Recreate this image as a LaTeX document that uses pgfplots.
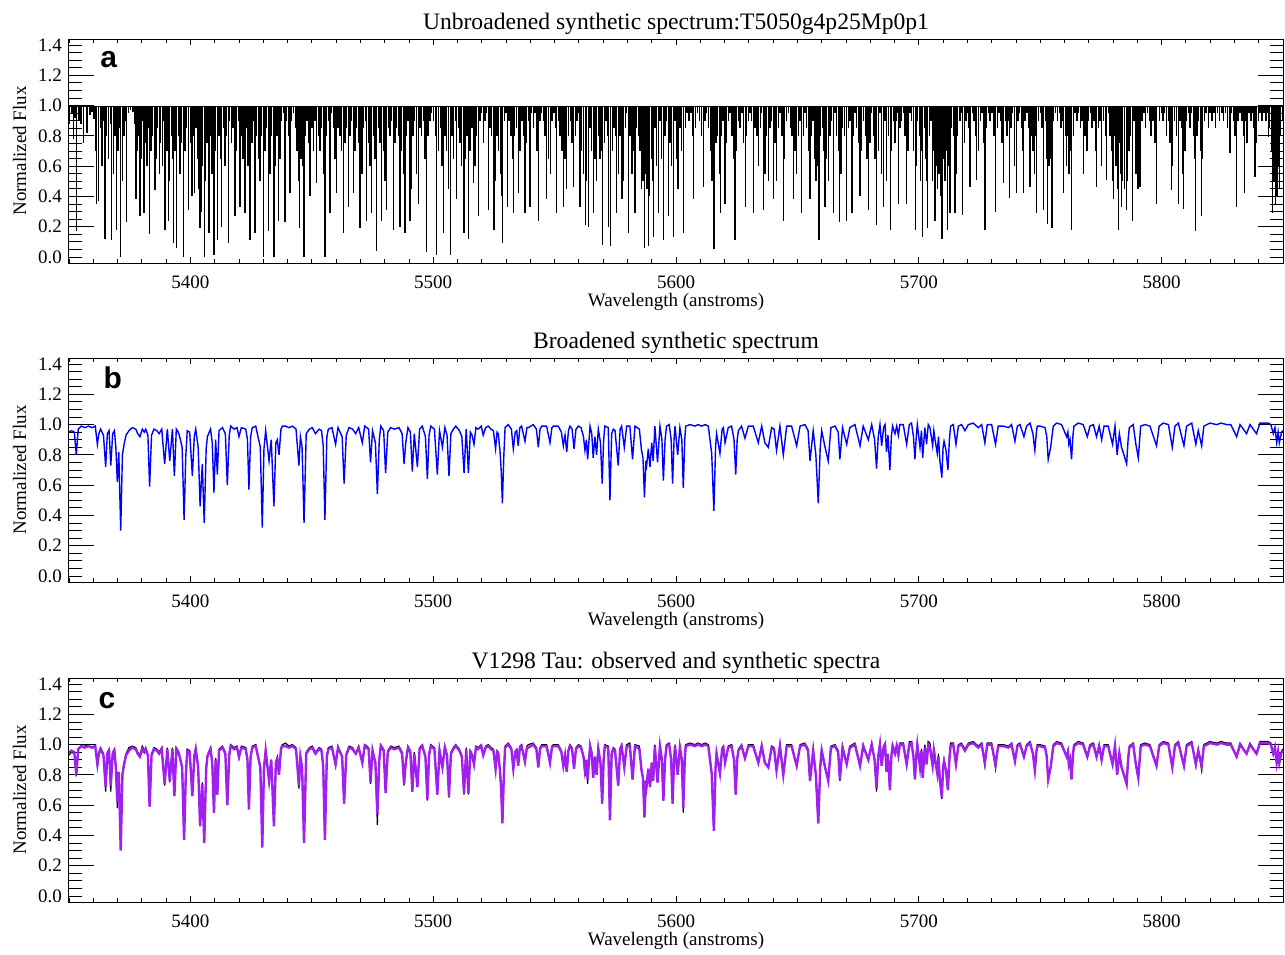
\documentclass[border=0pt]{standalone}
\usepackage{fontspec}
\setmainfont{Liberation Serif}
\newfontfamily\panelfont{Liberation Sans}
\usepackage{pgfplots}
\pgfplotsset{compat=1.18}
\usepackage{pgfplotstable}
\definecolor{specblue}{RGB}{0,0,255}
\definecolor{specpurple}{RGB}{160,32,240}

% broadened synthetic (syn) and observed V1298 Tau (obs) spectra
\pgfplotstableread{
wl syn obs
5350.0 0.95 0.93
5351.0 0.96 0.95
5352.2 0.95 0.94
5353.0 0.80 0.79
5353.8 0.97 0.97
5355.0 0.99 0.99
5356.5 0.98 0.99
5358.0 0.99 1.00
5359.5 0.98 1.00
5360.8 0.99 1.00
5361.7 0.87 0.85
5362.3 0.94 0.95
5363.0 0.97 0.98
5364.2 0.93 0.94
5365.1 0.72 0.69
5365.8 0.94 0.95
5366.5 0.96 0.97
5367.2 0.73 0.69
5368.0 0.94 0.95
5368.7 0.96 0.97
5369.3 0.85 0.84
5369.9 0.62 0.58
5370.5 0.82 0.82
5371.3 0.30 0.31
5372.0 0.80 0.81
5372.7 0.87 0.88
5373.5 0.93 0.94
5374.7 0.96 0.98
5376.0 0.98 0.99
5377.5 0.97 0.98
5378.3 0.94 0.95
5379.2 0.92 0.93
5380.2 0.97 0.99
5381.0 0.95 0.96
5381.6 0.97 0.98
5382.5 0.93 0.93
5383.2 0.59 0.59
5384.0 0.93 0.94
5385.0 0.97 0.98
5386.2 0.96 0.97
5387.1 0.94 0.95
5388.2 0.97 0.98
5389.4 0.74 0.73
5390.5 0.97 0.98
5391.5 0.76 0.75
5392.6 0.97 0.98
5393.4 0.66 0.66
5394.2 0.97 0.98
5395.0 0.95 0.96
5395.6 0.92 0.92
5396.6 0.85 0.85
5397.4 0.37 0.38
5398.1 0.79 0.80
5398.7 0.96 0.97
5399.7 0.95 0.96
5400.8 0.66 0.66
5401.6 0.92 0.93
5402.2 0.97 0.98
5403.2 0.85 0.85
5404.0 0.46 0.47
5404.9 0.74 0.75
5405.7 0.35 0.36
5406.5 0.84 0.85
5407.0 0.92 0.93
5408.3 0.97 0.98
5409.0 0.88 0.88
5409.7 0.55 0.56
5410.4 0.90 0.91
5411.1 0.67 0.67
5411.8 0.96 0.97
5413.2 0.98 0.99
5414.4 0.94 0.95
5415.2 0.60 0.60
5416.0 0.93 0.94
5416.6 0.99 1.00
5418.0 0.97 0.98
5419.2 0.98 0.99
5420.0 0.92 0.91
5421.0 0.98 0.99
5422.8 0.97 0.98
5423.5 0.90 0.90
5424.1 0.57 0.58
5424.8 0.92 0.93
5425.5 0.98 0.99
5426.9 0.99 1.00
5428.8 0.85 0.85
5429.6 0.32 0.33
5430.3 0.84 0.85
5431.0 0.96 0.97
5432.4 0.76 0.76
5433.3 0.90 0.90
5434.4 0.46 0.47
5435.2 0.88 0.89
5435.8 0.90 0.92
5436.5 0.80 0.80
5437.3 0.97 0.98
5437.9 0.99 1.00
5439.2 0.99 1.01
5440.6 0.98 0.99
5442.0 0.99 1.00
5443.5 0.97 0.98
5444.7 0.73 0.71
5445.3 0.92 0.92
5446.0 0.85 0.85
5446.8 0.35 0.36
5447.7 0.94 0.95
5449.0 0.97 0.98
5450.2 0.98 0.99
5451.5 0.94 0.95
5453.0 0.97 0.98
5454.0 0.96 0.97
5454.7 0.86 0.85
5455.4 0.37 0.38
5456.2 0.92 0.93
5456.8 0.97 0.98
5458.3 0.98 0.99
5459.8 0.87 0.86
5460.8 0.98 0.99
5462.5 0.92 0.92
5463.3 0.61 0.61
5464.2 0.93 0.94
5465.3 0.98 0.99
5466.8 0.97 0.98
5468.1 0.94 0.94
5469.3 0.98 0.99
5470.8 0.88 0.88
5471.8 0.99 1.00
5473.4 0.97 0.98
5474.2 0.75 0.74
5475.0 0.96 0.97
5476.2 0.88 0.88
5477.0 0.54 0.47
5477.8 0.90 0.90
5478.4 0.99 1.00
5479.6 0.96 0.97
5480.4 0.68 0.68
5481.3 0.95 0.96
5482.5 0.98 0.99
5484.0 0.97 0.98
5485.9 0.98 0.99
5487.2 0.94 0.95
5488.0 0.74 0.73
5488.7 0.88 0.88
5489.6 0.98 0.99
5490.6 0.95 0.96
5491.4 0.69 0.69
5492.2 0.94 0.95
5493.5 0.72 0.72
5494.4 0.97 0.98
5495.5 0.99 1.00
5496.8 0.92 0.92
5497.6 0.64 0.63
5498.3 0.93 0.94
5499.0 0.99 1.00
5500.5 0.97 0.98
5501.7 0.67 0.67
5502.6 0.96 0.97
5503.8 0.85 0.85
5504.8 0.98 0.99
5505.7 0.93 0.93
5506.5 0.66 0.65
5507.3 0.94 0.95
5508.3 0.97 0.98
5509.3 0.99 1.00
5510.8 0.96 0.97
5511.8 0.92 0.92
5512.7 0.68 0.67
5513.6 0.97 0.98
5514.5 0.68 0.67
5515.3 0.95 0.96
5516.0 0.93 0.94
5516.8 0.87 0.87
5517.6 0.98 0.99
5518.5 0.97 0.98
5519.8 0.99 1.00
5520.6 0.93 0.94
5521.6 0.98 0.99
5522.7 0.99 1.00
5523.8 0.97 0.98
5524.8 0.96 0.97
5525.7 0.84 0.84
5526.3 0.95 0.96
5526.8 0.94 0.95
5527.5 0.83 0.83
5528.0 0.70 0.70
5528.5 0.48 0.49
5529.1 0.80 0.80
5529.6 0.98 0.99
5530.9 1.00 1.01
5532.2 0.97 0.98
5533.0 0.84 0.84
5533.8 0.95 0.96
5534.4 0.96 0.97
5535.0 0.86 0.86
5535.7 0.98 0.99
5536.4 0.99 1.00
5537.8 0.89 0.88
5538.6 0.98 0.99
5539.2 0.98 1.00
5541.2 1.00 1.01
5542.5 0.97 0.98
5543.3 0.85 0.85
5544.0 0.97 0.98
5544.7 0.99 1.00
5546.7 0.99 1.00
5548.1 0.88 0.88
5548.9 0.98 0.99
5549.5 0.99 1.00
5551.5 0.99 1.00
5552.8 0.95 0.96
5553.6 0.86 0.86
5554.3 0.93 0.93
5555.0 0.82 0.82
5555.7 0.96 0.97
5556.3 0.99 1.00
5557.2 0.97 0.98
5558.0 0.84 0.84
5558.8 0.97 0.98
5559.8 0.99 1.00
5560.9 0.98 0.99
5561.9 0.92 0.92
5562.5 0.83 0.79
5563.1 0.90 0.88
5563.6 0.77 0.74
5564.6 0.99 1.00
5565.3 0.94 0.95
5565.9 0.78 0.78
5566.6 0.92 0.92
5567.3 0.80 0.80
5568.0 0.97 0.98
5568.9 0.88 0.88
5569.6 0.61 0.61
5570.2 0.90 0.91
5570.7 0.99 1.00
5572.1 0.98 0.99
5572.8 0.50 0.51
5573.5 0.94 0.95
5574.2 0.97 0.98
5574.9 0.96 0.97
5576.2 0.73 0.73
5577.0 0.97 0.98
5577.6 0.99 1.00
5578.7 0.85 0.85
5579.7 0.99 1.00
5581.0 0.99 1.01
5582.1 0.77 0.77
5583.1 0.99 1.00
5584.9 0.97 0.99
5585.8 0.83 0.83
5586.4 0.78 0.78
5587.0 0.52 0.52
5587.6 0.76 0.74
5587.9 0.73 0.72
5588.6 0.84 0.84
5589.3 0.72 0.72
5590.0 0.88 0.88
5590.6 0.76 0.76
5591.3 0.99 1.00
5592.4 0.75 0.75
5593.4 0.99 1.00
5594.2 0.90 0.90
5594.8 0.63 0.63
5595.5 0.90 0.91
5596.1 0.99 1.00
5597.2 1.00 1.01
5598.0 0.90 0.90
5598.6 0.61 0.61
5599.2 0.90 0.91
5599.6 0.99 1.00
5600.7 0.80 0.80
5601.6 0.98 0.99
5602.4 0.90 0.90
5603.0 0.58 0.55
5603.6 0.90 0.90
5604.0 0.99 1.00
5605.8 1.00 1.01
5607.8 0.99 1.00
5609.0 1.00 1.01
5610.6 0.99 1.00
5612.0 1.00 1.01
5613.3 0.99 1.00
5614.7 0.81 0.81
5615.6 0.43 0.43
5616.3 0.85 0.86
5616.7 0.94 0.95
5618.1 0.81 0.81
5619.0 0.97 0.98
5619.5 0.98 0.99
5620.2 0.88 0.88
5621.5 0.98 0.99
5622.9 0.99 1.00
5623.9 0.90 0.90
5624.6 0.67 0.67
5625.2 0.90 0.91
5625.7 0.96 0.97
5627.0 0.99 1.00
5628.4 0.91 0.91
5629.8 0.99 1.00
5631.8 0.99 1.00
5633.9 0.88 0.88
5635.3 0.99 1.00
5636.6 0.88 0.88
5638.0 0.85 0.85
5639.4 0.98 0.99
5640.4 0.97 0.98
5641.4 0.83 0.83
5642.8 0.99 1.00
5644.2 0.80 0.80
5645.6 0.99 1.00
5647.6 0.99 1.00
5649.7 0.86 0.86
5651.1 0.99 1.00
5653.1 1.00 1.01
5654.4 0.96 0.97
5655.2 0.76 0.76
5656.5 0.96 0.97
5657.6 0.80 0.80
5658.6 0.48 0.48
5659.4 0.85 0.86
5660.0 0.96 0.97
5661.4 0.85 0.85
5662.7 0.76 0.76
5663.8 0.98 0.99
5665.5 0.99 1.00
5666.8 0.95 0.96
5667.5 0.77 0.76
5668.6 0.98 0.99
5670.3 0.87 0.87
5671.6 0.98 0.99
5673.7 1.00 1.01
5675.8 0.86 0.86
5677.1 0.99 1.00
5679.2 0.90 0.90
5680.6 1.00 1.01
5681.8 0.90 0.90
5682.6 0.71 0.69
5683.3 0.92 0.93
5684.0 1.00 1.01
5684.7 0.86 0.86
5685.5 0.98 0.99
5686.1 1.00 1.01
5686.7 0.82 0.82
5687.3 0.93 0.94
5688.1 0.70 0.70
5688.7 0.92 0.93
5689.2 0.99 1.00
5690.2 0.94 0.95
5690.9 0.99 1.00
5691.6 0.93 0.94
5692.2 1.00 1.01
5693.6 1.00 1.01
5695.0 0.87 0.87
5696.1 1.00 1.02
5697.0 1.01 1.02
5697.8 0.92 0.92
5698.4 0.77 0.77
5699.0 0.93 0.94
5699.4 1.00 1.01
5700.5 0.85 0.85
5701.1 0.96 0.97
5701.6 0.78 0.78
5702.5 0.98 1.00
5703.2 0.87 0.87
5703.9 1.00 1.02
5704.6 0.98 1.01
5705.7 0.86 0.86
5706.2 0.96 0.98
5706.7 0.90 0.92
5707.6 0.81 0.81
5708.1 0.92 0.94
5708.7 0.76 0.76
5709.5 0.65 0.64
5710.0 0.85 0.86
5710.4 0.89 0.90
5711.2 0.83 0.83
5712.0 0.70 0.70
5712.6 0.90 0.92
5713.1 0.99 1.01
5714.2 1.00 1.01
5715.3 0.87 0.87
5716.3 0.99 1.00
5717.6 1.00 1.01
5719.0 0.96 0.97
5720.4 1.00 1.01
5722.4 1.01 1.02
5724.5 0.98 0.99
5725.9 1.00 1.01
5727.2 0.88 0.86
5728.2 1.00 1.01
5730.0 1.00 1.01
5731.6 0.87 0.84
5732.7 0.99 1.00
5734.8 0.99 1.00
5736.9 0.98 0.99
5738.2 1.00 1.01
5739.6 0.89 0.89
5740.6 0.99 1.00
5741.7 1.00 1.01
5743.3 0.92 0.92
5744.4 0.99 1.00
5745.8 1.01 1.02
5747.0 0.94 0.94
5747.8 0.83 0.83
5748.5 0.96 0.97
5748.8 0.99 1.00
5749.9 0.99 1.00
5752.0 0.98 0.99
5752.7 0.92 0.92
5753.3 0.77 0.77
5754.3 0.85 0.85
5755.4 0.99 1.00
5756.8 1.01 1.02
5758.8 1.00 1.01
5760.9 0.92 0.92
5761.4 0.95 0.96
5761.8 0.87 0.87
5762.3 0.90 0.90
5762.9 0.77 0.77
5763.5 0.93 0.94
5763.9 0.99 1.00
5765.7 1.01 1.02
5767.7 1.00 1.01
5769.4 0.92 0.92
5770.5 0.99 1.00
5771.9 1.00 1.01
5773.2 0.92 0.92
5774.3 0.99 1.00
5775.3 0.90 0.90
5776.3 0.99 1.00
5778.0 0.99 1.00
5779.8 0.87 0.87
5780.8 0.99 1.00
5781.7 0.80 0.80
5782.6 0.94 0.95
5783.5 0.85 0.85
5784.5 0.80 0.80
5785.6 0.74 0.74
5786.2 0.90 0.91
5786.7 0.98 0.99
5788.3 1.00 1.01
5789.4 0.87 0.87
5790.4 0.78 0.78
5791.4 0.99 1.00
5793.1 1.00 1.01
5795.2 0.99 1.00
5797.9 0.86 0.86
5799.0 0.99 1.00
5800.7 1.01 1.02
5802.8 1.00 1.01
5804.4 0.85 0.85
5805.5 0.99 1.00
5806.9 1.01 1.02
5809.2 0.86 0.86
5810.3 0.99 1.00
5812.4 1.01 1.02
5814.1 0.87 0.86
5815.1 0.96 0.97
5816.5 0.86 0.83
5817.4 0.99 1.00
5819.9 1.01 1.02
5822.7 1.00 1.01
5824.5 1.01 1.02
5826.8 1.00 1.01
5828.5 1.00 1.01
5830.9 0.92 0.92
5832.3 1.00 1.01
5835.0 0.94 0.94
5836.4 1.00 1.01
5839.1 0.94 0.94
5840.5 1.01 1.02
5843.9 1.01 1.02
5845.0 1.00 1.01
5846.0 0.94 0.94
5846.7 0.98 0.99
5847.4 0.88 0.88
5848.0 0.95 0.96
5848.5 0.88 0.88
5849.4 0.95 0.96
5850.0 0.96 0.97
}\broad

\pgfplotsset{
  specaxis/.style={
    width=607pt, height=112pt, scale only axis,
    xmin=5350, xmax=5850, ymin=-0.04, ymax=1.44,
    axis line style={line width=0.5pt},
    tick pos=both, tick align=inside,
    tick style={black, line width=0.4pt},
    xtick={5400,5500,5600,5700,5800},
    minor xtick={5350,5360,...,5850},
    ytick={0,0.2,0.4,0.6,0.8,1,1.2,1.4},
    minor ytick={0.05,0.1,0.15,0.25,0.3,0.35,0.45,0.5,0.55,0.65,0.7,0.75,0.85,0.9,0.95,1.05,1.1,1.15,1.25,1.3,1.35},
    major tick length=6.5pt, minor tick length=6.5pt,
    xtick style={/pgfplots/major tick length=3pt, /pgfplots/minor tick length=2pt},
    extra y ticks={0.2,0.4,0.6,0.8,1,1.2},
    extra y tick labels={},
    extra y tick style={/pgfplots/major tick length=12.5pt},
    scaled ticks=false,
    /pgf/number format/assume math mode=true,
    xticklabel={\pgfmathprintnumber[1000 sep={}]{\tick}},
    yticklabel={\pgfmathprintnumber[fixed, fixed zerofill, precision=1]{\tick}},
    xticklabel style={anchor=base, yshift=-12.5pt},
    tick label style={font=\fontsize{9.5}{11}\selectfont},
    xlabel={Wavelength (anstroms)},
    ylabel={Normalized Flux},
    label style={font=\fontsize{9.5}{11}\selectfont},
    xlabel style={at={(axis description cs:0.5,0)}, anchor=base, yshift=-21.5pt},
    ylabel style={at={(axis description cs:-0.0354,0.5)}, anchor=base},
    title style={font=\fontsize{11.8}{14}\selectfont, at={(0.5,1)}, anchor=base, yshift=-1pt},
  },
  combaxis/.style={
    width=607pt, height=112pt, scale only axis,
    xmin=5350, xmax=5850, ymin=-0.44, ymax=1.04, y dir=reverse,
    hide axis,
  },
}
\tikzset{panelletter/.style={anchor=base west, font=\panelfont\bfseries\fontsize{15}{18}\selectfont}}

\begin{document}
\begin{tikzpicture}

% a: unbroadened synthetic spectrum
\begin{axis}[specaxis, at={(0,0)}, anchor=north west,
  title={Unbroadened synthetic spectrum:T5050g4p25Mp0p1}]
\addplot[black, line width=0.6pt] coordinates {(5350,0.995)(5850,0.995)};
\node[panelletter] at (axis description cs:0.020,0.875) {a};
\end{axis}

% line depths (1 - flux) of the unbroadened lines
\begin{axis}[combaxis, at={(0,0)}, anchor=north west]
\addplot[ycomb, black, line width=0.65pt] coordinates {
(5353.0,.83)(5361.4,.65)(5362.2,.63)(5364.8,.88)(5367.6,.89)(5369.6,.82)(5371.3,1.0)(5373.8,.77)
(5377.6,.62)(5379.2,.73)(5380.9,.71)(5383.1,.85)(5385.4,.56)(5387.2,.45)(5389.5,.82)(5390.9,.76)
(5393.0,.91)(5394.4,.94)(5397.1,1.0)(5399.1,.69)(5401.6,.58)(5404.0,.81)(5405.7,1.0)(5407.7,.84)
(5409.7,.99)(5411.1,.89)(5412.9,.80)(5415.6,.91)(5418.4,.73)(5420.4,.67)(5422.5,.71)(5424.5,.89)
(5426.6,.84)(5430.0,1.0)(5432.1,.83)(5434.4,1.0)(5436.2,.76)(5439.0,.77)(5441.0,.58)(5444.9,.81)
(5446.8,1.0)(5449.3,.60)(5452.0,.51)(5455.4,1.0)(5457.5,.71)(5460.2,.58)(5463.0,.84)(5465.0,.67)
(5467.1,.58)(5469.9,.81)(5472.6,.76)(5474.7,.71)(5476.7,.96)(5478.8,.76)(5480.8,.69)(5483.6,.82)
(5486.3,.80)(5488.4,.84)(5490.4,.76)(5493.9,.65)(5497.3,.97)(5501.5,.99)(5504.2,.84)(5507.0,.99)
(5509.7,.62)(5512.7,.84)(5514.5,.88)(5516.6,.51)(5518.6,.73)(5522.7,.69)(5525.1,.82)(5528.6,.91)
(5530.6,.67)(5533.0,.71)(5535.1,.58)(5537.8,.71)(5539.9,.67)(5543.3,.76)(5546.8,.62)(5550.9,.71)
(5553.6,.67)(5557.8,.54)(5560.5,.67)(5562.6,.79)(5563.9,.80)(5566.0,.71)(5569.8,.92)(5572.2,.80)
(5573.1,.93)(5575.6,.71)(5577.7,.62)(5580.4,.84)(5583.1,.71)(5586.9,.94)(5588.6,.93)(5590.7,.87)
(5592.8,.71)(5594.8,.89)(5596.9,.73)(5598.9,.87)(5603.1,.84)(5607.2,.62)(5611.3,.54)(5615.7,.95)
(5618.2,.71)(5620.2,.65)(5624.3,.89)(5628.5,.67)(5631.9,.71)(5636.0,.69)(5640.1,.62)(5644.2,.76)
(5648.4,.62)(5651.8,.71)(5655.2,.62)(5658.9,.89)(5661.4,.67)(5664.8,.71)(5667.3,.77)(5670.3,.76)
(5672.5,.71)(5675.8,.60)(5679.3,.69)(5682.7,.79)(5685.4,.67)(5688.2,.82)(5691.6,.65)(5695.0,.65)
(5698.5,.82)(5701.6,.87)(5703.7,.81)(5706.7,.76)(5709.5,.88)(5711.8,.82)(5712.9,.71)(5714.9,.71)
(5718.0,.72)(5721.1,.54)(5723.9,.49)(5727.3,.82)(5731.7,.70)(5734.9,.51)(5737.3,.61)(5740.1,.58)
(5743.1,.58)(5745.8,.54)(5748.6,.71)(5751.3,.69)(5753.0,.78)(5754.8,.81)(5759.6,.58)(5763.0,.82)
(5767.8,.45)(5773.3,.54)(5777.4,.49)(5780.2,.62)(5782.2,.82)(5783.6,.67)(5785.4,.69)(5788.1,.76)
(5791.1,.54)(5798.0,.65)(5804.2,.56)(5806.9,.65)(5809.0,.68)(5814.1,.83)(5816.5,.73)(5828.2,.31)
(5830.9,.67)(5834.1,.58)(5838.5,.47)(5844.0,.21)(5845.8,.71)(5846.8,.65)(5847.8,.60)(5848.6,.55)
};
\addplot[ycomb, black, line width=0.7pt] coordinates {
(5350.3,.12)(5351.2,.05)(5351.8,.22)(5352.5,.08)(5354.2,.1)(5355.0,.12)(5356.0,.25)(5357.4,.18)(5358.6,.06)(5359.4,.04)
(5360.3,.09)(5361.0,.3)(5362.9,.15)(5363.6,.4)(5364.2,.1)(5365.5,.2)(5366.3,.35)(5367.0,.12)(5368.4,.45)(5369.0,.2)
(5370.2,.3)(5370.7,.15)(5372.0,.5)(5372.6,.2)(5373.2,.1)(5374.5,.05)(5375.4,.03)(5376.3,.04)(5377.0,.12)(5378.3,.3)(5378.9,.2)(5379.8,.35)
(5380.3,.1)(5381.5,.25)(5382.2,.4)(5382.7,.15)(5383.8,.3)(5384.4,.2)(5385.9,.35)(5386.5,.15)(5387.8,.25)(5388.4,.4)(5389.0,.1)
(5390.3,.3)(5391.5,.5)(5392.2,.2)(5392.6,.35)(5393.7,.3)(5395.0,.2)(5395.7,.45)(5396.3,.25)(5397.8,.3)(5398.4,.15)
(5400.0,.25)(5400.6,.6)(5401.0,.2)(5402.3,.15)(5402.9,.35)(5403.4,.55)(5404.6,.7)(5405.1,.4)(5406.3,.5)(5406.9,.25)(5408.3,.2)(5408.9,.45)
(5410.3,.3)(5411.7,.2)(5412.3,.35)(5413.6,.15)(5414.3,.4)(5414.9,.2)(5416.2,.1)(5416.9,.25)(5417.6,.15)(5419.0,.3)(5419.7,.1)
(5421.0,.2)(5421.7,.35)(5423.2,.15)(5423.8,.4)(5425.3,.25)(5425.9,.1)(5427.3,.2)(5428.0,.35)(5428.7,.5)(5429.3,.2)
(5430.7,.3)(5431.4,.15)(5432.8,.45)(5433.5,.2)(5435.0,.4)(5435.6,.2)(5436.9,.35)(5437.6,.1)(5438.3,.05)(5439.6,.1)
(5440.4,.2)(5441.6,.1)(5442.4,.05)(5443.2,.15)(5443.9,.3)(5444.4,.5)(5445.5,.35)(5446.2,.4)(5447.5,.2)(5448.1,.1)(5448.7,.25)
(5450.0,.15)(5450.7,.3)(5451.4,.1)(5452.7,.2)(5453.4,.3)(5454.1,.15)(5454.8,.45)(5456.0,.2)(5456.8,.1)(5458.2,.05)(5458.9,.15)
(5459.6,.35)(5460.8,.15)(5461.6,.2)(5462.3,.3)(5463.7,.25)(5464.3,.15)(5465.7,.2)(5466.4,.1)(5467.8,.3)(5468.5,.15)(5469.2,.25)
(5470.6,.45)(5471.3,.15)(5472.0,.1)(5473.3,.25)(5474.0,.4)(5475.4,.2)(5476.1,.35)(5477.4,.15)(5478.1,.25)(5479.5,.3)
(5480.2,.5)(5481.5,.15)(5482.2,.2)(5482.9,.1)(5484.3,.25)(5485.0,.15)(5485.6,.2)(5487.0,.3)(5487.7,.45)(5489.1,.2)(5489.7,.1)
(5491.1,.55)(5491.7,.2)(5492.4,.1)(5493.1,.45)(5494.6,.15)(5495.3,.2)(5496.0,.1)(5496.6,.35)(5497.9,.2)(5498.6,.1)(5499.3,.05)
(5500.2,.1)(5500.9,.2)(5502.2,.3)(5502.9,.15)(5503.6,.4)(5504.9,.2)(5505.5,.3)(5506.3,.55)(5507.7,.2)(5508.4,.35)(5509.1,.1)
(5510.4,.15)(5511.1,.25)(5511.7,.4)(5513.3,.35)(5514.0,.2)(5515.2,.3)(5515.9,.15)(5517.2,.4)(5517.9,.2)(5519.3,.1)(5519.9,.05)
(5520.6,.25)(5521.3,.1)(5522.0,.05)(5523.4,.15)(5524.1,.2)(5524.8,.3)(5525.7,.5)(5526.3,.2)(5527.0,.3)(5527.6,.45)(5528.1,.6)(5529.3,.1)
(5530.0,.05)(5531.3,.1)(5532.0,.2)(5532.6,.35)(5533.6,.2)(5534.3,.15)(5535.8,.3)(5536.5,.1)(5537.1,.2)(5538.5,.25)(5539.2,.1)
(5540.6,.05)(5541.3,.15)(5542.0,.05)(5542.7,.3)(5544.0,.1)(5544.7,.05)(5545.5,.1)(5546.1,.2)(5547.5,.35)(5548.2,.45)(5549.0,.1)
(5549.7,.05)(5550.3,.15)(5551.6,.1)(5552.3,.2)(5553.0,.3)(5554.3,.35)(5555.0,.55)(5555.7,.2)(5556.5,.1)(5557.2,.25)(5558.5,.2)(5559.2,.1)
(5559.8,.05)(5561.2,.3)(5561.9,.45)(5563.2,.5)(5564.6,.15)(5565.3,.3)(5565.9,.45)(5566.7,.35)(5567.3,.5)(5568.0,.2)(5568.7,.35)(5569.3,.3)
(5570.5,.25)(5571.2,.1)(5571.8,.2)(5573.8,.3)(5574.5,.15)(5575.0,.2)(5576.3,.45)(5577.0,.2)(5578.4,.5)(5579.1,.15)(5579.7,.05)
(5581.1,.2)(5581.8,.45)(5582.5,.3)(5583.8,.15)(5584.5,.2)(5585.2,.3)(5585.8,.55)(5586.4,.5)(5587.5,.45)(5588.0,.55)(5589.2,.6)(5589.8,.35)
(5590.2,.5)(5591.4,.15)(5592.0,.4)(5593.4,.1)(5594.1,.35)(5595.5,.2)(5596.2,.1)(5597.6,.25)(5598.2,.4)(5599.6,.1)(5600.3,.35)
(5600.8,.55)(5601.6,.15)(5602.3,.3)(5603.8,.15)(5604.5,.05)(5605.4,.1)(5606.2,.05)(5606.8,.2)(5608.1,.15)(5608.8,.05)(5609.6,.1)
(5610.4,.2)(5611.9,.1)(5612.6,.05)(5613.4,.15)(5614.2,.3)(5614.8,.5)(5616.4,.25)(5617.1,.2)(5617.8,.45)(5618.8,.2)(5619.4,.1)
(5620.8,.25)(5621.5,.1)(5622.2,.05)(5623.0,.2)(5623.7,.35)(5625.0,.3)(5625.7,.1)(5626.4,.15)(5627.2,.05)(5627.9,.25)(5629.1,.2)(5629.8,.1)
(5630.5,.05)(5631.2,.1)(5632.6,.15)(5633.3,.2)(5633.9,.4)(5634.7,.15)(5635.3,.05)(5636.6,.45)(5637.3,.2)(5638.0,.5)(5638.7,.15)(5639.4,.1)
(5640.8,.25)(5641.4,.5)(5642.2,.15)(5642.9,.05)(5643.6,.2)(5644.8,.35)(5645.6,.1)(5646.4,.05)(5647.1,.15)(5647.8,.2)(5649.0,.3)(5649.7,.45)
(5650.4,.2)(5651.1,.1)(5652.4,.2)(5653.1,.05)(5653.8,.15)(5654.5,.3)(5655.9,.2)(5656.5,.1)(5657.2,.35)(5657.7,.5)(5658.3,.4)(5659.6,.2)
(5660.3,.15)(5661.0,.3)(5662.1,.35)(5662.7,.5)(5663.4,.2)(5664.1,.1)(5665.5,.05)(5666.2,.2)(5666.9,.3)(5667.9,.45)(5668.6,.15)(5669.5,.2)
(5671.0,.15)(5671.6,.1)(5673.0,.2)(5673.7,.05)(5674.4,.15)(5675.1,.25)(5676.4,.3)(5677.1,.1)(5678.0,.2)(5678.6,.35)(5679.9,.25)(5680.6,.05)
(5681.3,.2)(5682.0,.35)(5683.3,.3)(5684.0,.05)(5684.7,.45)(5686.0,.1)(5686.7,.5)(5687.4,.2)(5688.8,.3)(5689.5,.1)(5690.2,.25)(5690.9,.1)
(5691.0,.05)(5692.2,.15)(5692.9,.1)(5693.6,.05)(5694.3,.2)(5695.6,.3)(5696.3,.05)(5697.0,.1)(5697.7,.3)(5698.9,.4)(5699.5,.1)
(5700.2,.2)(5700.8,.5)(5701.1,.3)(5702.3,.15)(5702.9,.35)(5703.2,.5)(5704.4,.2)(5705.0,.1)(5705.7,.5)(5706.2,.3)(5707.2,.4)(5707.8,.55)(5708.4,.45)(5709.0,.6)
(5710.2,.35)(5710.8,.5)(5711.4,.3)(5712.4,.4)(5713.5,.15)(5714.3,.2)(5715.4,.45)(5716.0,.2)(5716.9,.1)(5717.6,.05)(5718.7,.25)(5719.4,.1)
(5720.2,.05)(5720.7,.15)(5722.0,.05)(5722.7,.1)(5723.3,.2)(5724.6,.3)(5725.3,.1)(5726.0,.05)(5726.7,.25)(5727.9,.15)(5728.6,.05)(5729.4,.1)
(5730.2,.05)(5730.9,.2)(5732.3,.15)(5733.0,.05)(5733.7,.1)(5734.3,.25)(5735.6,.1)(5736.3,.2)(5736.9,.1)(5738.0,.15)(5738.7,.05)(5739.5,.4)
(5740.8,.1)(5741.5,.05)(5742.3,.15)(5742.9,.3)(5743.8,.1)(5744.5,.05)(5745.2,.15)(5746.5,.2)(5747.1,.3)(5747.7,.45)(5748.2,.2)(5749.4,.1)
(5750.2,.05)(5750.8,.15)(5752.1,.1)(5752.6,.35)(5753.6,.4)(5754.2,.35)(5755.6,.1)(5756.3,.05)(5757.1,.1)(5757.9,.05)(5758.6,.15)(5759.0,.1)
(5760.3,.2)(5760.9,.4)(5761.4,.2)(5761.8,.45)(5762.4,.3)(5763.6,.2)(5764.4,.05)(5765.1,.1)(5765.8,.05)(5766.6,.15)(5767.2,.1)(5768.5,.2)(5769.3,.3)
(5770.0,.1)(5770.7,.05)(5771.4,.15)(5772.1,.1)(5772.7,.3)(5774.0,.15)(5774.6,.1)(5775.3,.4)(5776.0,.1)(5776.8,.2)(5778.1,.05)(5778.8,.2)(5779.5,.3)
(5779.9,.5)(5780.8,.2)(5781.3,.4)(5781.8,.55)(5782.7,.25)(5783.1,.45)(5784.0,.5)(5784.6,.55)(5785.9,.5)(5786.5,.3)(5787.3,.2)(5788.7,.1)(5789.4,.45)
(5790.3,.55)(5790.8,.3)(5792.0,.1)(5792.7,.05)(5793.4,.15)(5794.2,.05)(5794.9,.1)(5795.6,.2)(5796.4,.1)(5797.2,.25)(5797.8,.45)(5799.2,.1)
(5799.9,.05)(5800.6,.1)(5801.3,.05)(5802.1,.2)(5802.8,.1)(5803.5,.25)(5804.6,.4)(5805.3,.1)(5806.2,.2)(5807.5,.1)(5808.2,.15)(5808.8,.45)(5809.6,.3)
(5810.3,.1)(5811.0,.05)(5811.7,.15)(5812.4,.05)(5813.1,.2)(5813.8,.35)(5814.6,.2)(5815.3,.1)(5816.0,.3)(5816.9,.35)(5817.6,.1)(5818.3,.05)(5819.2,.15)
(5820.0,.05)(5820.7,.1)(5821.5,.05)(5822.3,.15)(5823.1,.05)(5823.9,.1)(5824.8,.05)(5825.6,.1)(5826.4,.05)(5827.1,.15)(5828.9,.05)(5829.6,.1)
(5830.3,.2)(5831.5,.1)(5832.3,.05)(5833.1,.1)(5833.8,.2)(5834.7,.1)(5835.2,.25)(5836.0,.05)(5836.8,.1)(5837.6,.05)(5838.0,.15)(5839.1,.25)(5839.8,.1)
(5840.6,.05)(5841.4,.1)(5842.2,.05)(5843.0,.1)(5843.6,.05)(5844.5,.15)(5845.2,.3)(5846.3,.5)(5847.2,.6)(5848.2,.4)(5849.0,.2)(5849.7,.1)
};
\end{axis}

% b: broadened synthetic spectrum
\begin{axis}[specaxis, at={(0,-159.5pt)}, anchor=north west,
  title={Broadened synthetic spectrum}]
\addplot[specblue, line width=0.7pt] table[x=wl, y=syn] {\broad};
\node[panelletter] at (axis description cs:0.0227,0.862) {b};
\end{axis}

% c: observed (black) and synthetic (purple)
\begin{axis}[specaxis, at={(0,-319.5pt)}, anchor=north west,
  title={V1298 Tau: observed and synthetic spectra}]
\addplot[black, line width=0.6pt] table[x=wl, y=obs] {\broad};
\addplot[specpurple, line width=1.2pt] table[x=wl, y=syn] {\broad};
\node[panelletter] at (axis description cs:0.0186,0.862) {c};
\end{axis}

\pgfresetboundingbox
\path[use as bounding box] (-34.5pt,19.5pt) rectangle (608pt,-457.5pt);
\end{tikzpicture}
\end{document}
